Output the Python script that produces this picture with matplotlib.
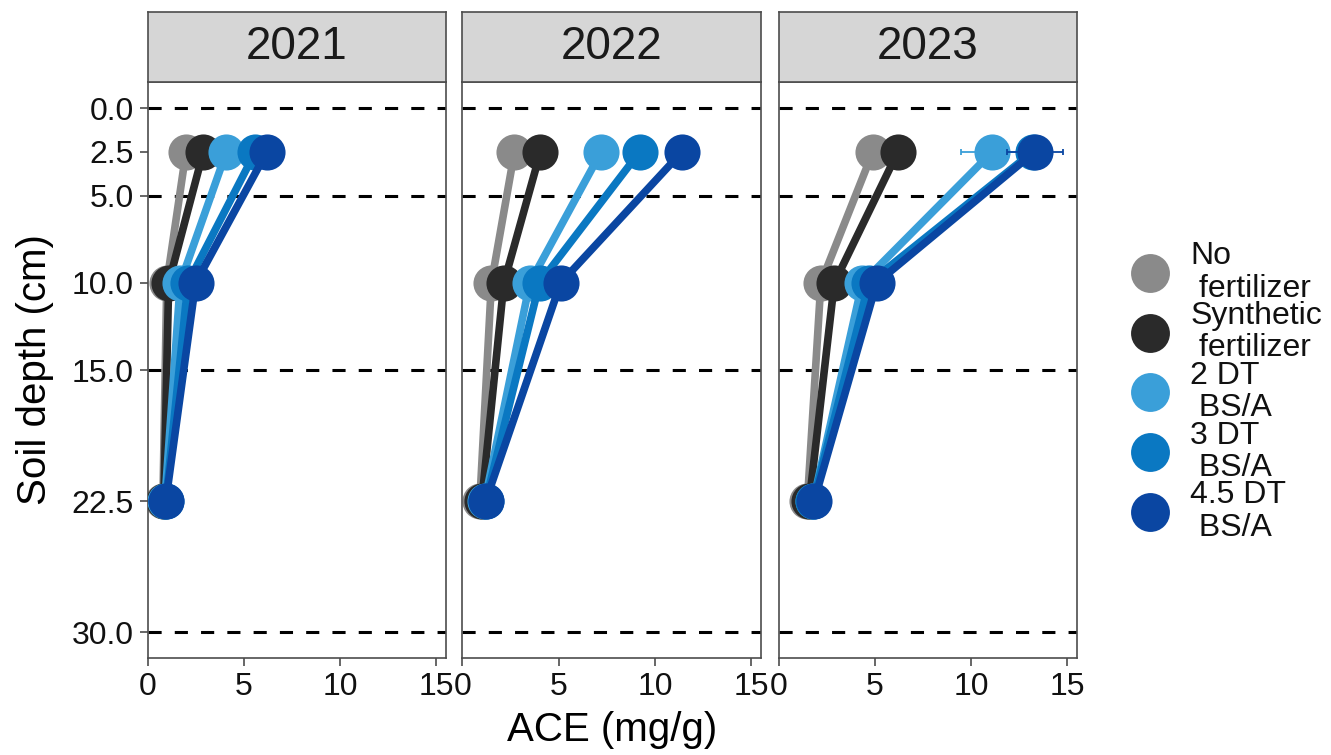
import matplotlib
matplotlib.use("Agg")
import matplotlib.pyplot as plt
from matplotlib.lines import Line2D
import numpy as np

plt.rcParams['font.family'] = ['Liberation Sans', 'DejaVu Sans']

years = ["2021", "2022", "2023"]
depths = [2.5, 10.0, 22.5]
treatments = ["No\n fertilizer", "Synthetic\n fertilizer", "2 DT\n BS/A", "3 DT\n BS/A", "4.5 DT\n BS/A"]
colors = ["#8a8a8a", "#2a2a2a", "#3a9fd9", "#0a78c2", "#0a46a2"]

# ACE (mg/g) per treatment at depths 2.5, 10, 22.5
ace_2021 = [
    [2.0, 1.0, 0.8],
    [2.9, 1.1, 0.85],
    [4.1, 1.7, 0.9],
    [5.6, 2.1, 0.95],
    [6.2, 2.5, 0.95],
]
ace_2022 = [
    [2.7, 1.5, 0.9],
    [4.05, 2.15, 1.0],
    [7.2, 3.5, 1.15],
    [9.2, 4.0, 1.2],
    [11.4, 5.1, 1.2],
]
ace_2023 = [
    [4.9, 2.2, 1.5],
    [6.2, 2.9, 1.6],
    [11.1, 4.35, 1.8],
    [13.2, 4.7, 1.8],
    [13.3, 5.1, 1.85],
]
# standard errors (horizontal error bars)
se_2021 = [[0.2, 0.1, 0.1]] * 5
se_2022 = [[0.3, 0.2, 0.1]] * 5
se_2023 = [
    [0.3, 0.2, 0.1],
    [0.3, 0.2, 0.1],
    [1.6, 0.3, 0.1],
    [0.4, 0.3, 0.1],
    [1.45, 0.3, 0.1],
]
ace_all = [ace_2021, ace_2022, ace_2023]
se_all = [se_2021, se_2022, se_2023]

hlines = [0, 5, 15, 30]
yticks = [0, 2.5, 5, 10, 15, 22.5, 30]
xticks = [0, 5, 10, 15]

W, H = 1331, 755
fig = plt.figure(figsize=(W / 100, H / 100), dpi=100)
fig.patch.set_facecolor("white")

lefts = [147.5, 462.5, 778.5]
pw = 298.5
pbot, ptop = 658.3, 82.0
stop = 11.7
border = "#4d4d4d"

for i, yr in enumerate(years):
    ax = fig.add_axes([lefts[i] / W, 1 - pbot / H, pw / W, (pbot - ptop) / H])
    for h in hlines:
        ax.axhline(h, color="black", lw=2.2, ls=(0, (4.3, 4.3)), zorder=1)
    for t in range(len(treatments)):
        vals = ace_all[i][t]
        errs = se_all[i][t]
        ax.errorbar(vals, depths, xerr=errs, fmt="none", ecolor=colors[t],
                    elinewidth=1.3, capsize=2, capthick=1.3, zorder=2 + t)
        ax.plot(vals, depths, color=colors[t], lw=5.5, marker="o", ms=26,
                mec="none", solid_capstyle="round", zorder=2 + t)
    ax.set_xlim(0, 15.5)
    ax.set_ylim(31.5, -1.5)
    ax.set_xticks(xticks)
    ax.set_xticklabels([str(x) for x in xticks])
    ax.set_yticks(yticks)
    if i == 0:
        ax.set_yticklabels([f"{y:.1f}" for y in yticks])
    else:
        ax.set_yticklabels([])
    ax.tick_params(axis="both", labelsize=23, length=6, width=1.2,
                   color=border, pad=4, labelcolor="#111111")
    if i > 0:
        ax.tick_params(axis="y", length=0)
    for sp in ax.spines.values():
        sp.set_color(border)
        sp.set_linewidth(1.2)

    sax = fig.add_axes([lefts[i] / W, 1 - ptop / H, pw / W, (ptop - stop) / H])
    sax.set_facecolor("#d6d6d6")
    sax.set_xticks([])
    sax.set_yticks([])
    for sp in sax.spines.values():
        sp.set_color(border)
        sp.set_linewidth(1.2)
    sax.text(0.5, 0.5, yr, ha="center", va="center", fontsize=33,
             color="#1a1a1a", transform=sax.transAxes)

fig.text(612 / W, 1 - 730 / H, "ACE (mg/g)", ha="center", va="center", fontsize=29)
fig.text(35 / W, 1 - 370 / H, "Soil depth (cm)", ha="center", va="center",
         fontsize=29, rotation=90)

handles = [Line2D([], [], ls="none", marker="o", ms=28, color=c, mec="none") for c in colors]
leg = fig.legend(handles, treatments, loc="center left",
                 bbox_to_anchor=(1120 / W, 1 - 392 / H), frameon=False,
                 fontsize=23, handlelength=0.9, handletextpad=0.8,
                 labelspacing=-0.08, borderpad=0)
for txt in leg.get_texts():
    txt.set_linespacing(1.1)
    txt.set_color("#111111")

fig.savefig("out.png", dpi=100)
